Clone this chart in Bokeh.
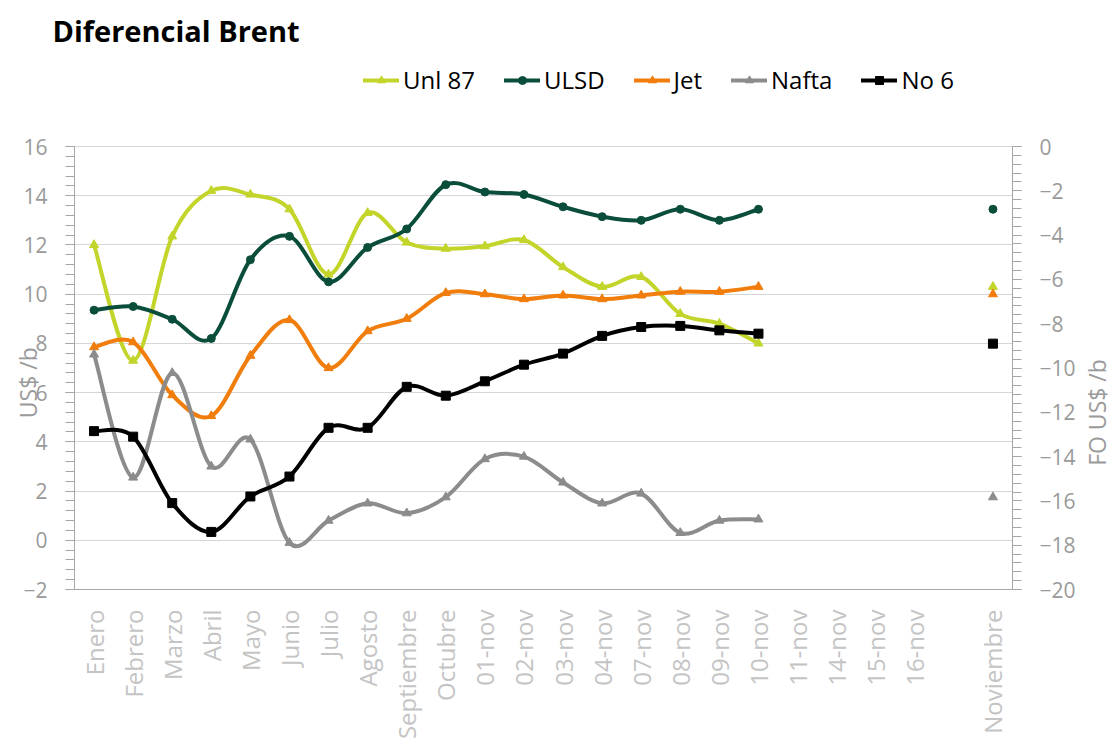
import math
from bokeh.plotting import figure
from bokeh.layouts import row
from bokeh.models import (Range1d, LinearAxis, FixedTicker, Legend, LegendItem)
from bokeh.core.properties import value
from bokeh.embed import file_html
from bokeh.resources import INLINE

# ---------------- data ----------------
categories = ["Enero", "Febrero", "Marzo", "Abril", "Mayo", "Junio", "Julio", "Agosto",
              "Septiembre", "Octubre", "01-nov", "02-nov", "03-nov", "04-nov", "07-nov",
              "08-nov", "09-nov", "10-nov", "11-nov", "14-nov", "15-nov", "16-nov", "",
              "Noviembre"]

unl87 = [12.0, 7.3, 12.35, 14.2, 14.05, 13.45, 10.8, 13.3, 12.1, 11.85, 11.95, 12.2,
         11.1, 10.3, 10.7, 9.2, 8.8, 8.0, None, None, None, None, None, 10.3]
ulsd = [9.35, 9.5, 8.98, 8.2, 11.4, 12.35, 10.5, 11.9, 12.65, 14.45, 14.15, 14.05,
        13.55, 13.15, 13.0, 13.45, 13.0, 13.45, None, None, None, None, None, 13.45]
jet = [7.85, 8.05, 5.9, 5.05, 7.5, 8.95, 7.0, 8.5, 9.0, 10.05, 10.0, 9.8,
       9.95, 9.8, 9.95, 10.1, 10.1, 10.3, None, None, None, None, None, 10.0]
nafta = [7.55, 2.55, 6.8, 3.0, 4.1, -0.1, 0.8, 1.5, 1.1, 1.75, 3.3, 3.4,
         2.35, 1.5, 1.9, 0.3, 0.8, 0.85, None, None, None, None, None, 1.75]
# No 6 is plotted against the secondary (right) axis "FO US$ /b"
no6 = [-12.85, -13.1, -16.1, -17.4, -15.8, -14.9, -12.7, -12.7, -10.85, -11.25, -10.6,
       -9.85, -9.35, -8.55, -8.15, -8.1, -8.3, -8.45, None, None, None, None, None, -8.9]

left_ticks = list(range(-2, 17, 2))
right_ticks = list(range(-20, 1, 2))

series_names = ["Unl 87", "ULSD", "Jet", "Nafta", "No 6"]
series_values = [unl87, ulsd, jet, nafta, no6]
series_colors = ["#c3d42a", "#0b4d3b", "#f07d0c", "#8c8c8c", "#000000"]
series_markers = ["triangle", "circle", "triangle", "triangle", "square"]
series_marker_sizes = [9, 8, 9, 9, 9]
series_axis = ["default", "default", "default", "default", "fo"]


def smooth_segments(vals):
    """Bezier control points (Excel-style smoothed line) for contiguous runs."""
    runs, cur = [], []
    for i, v in enumerate(vals):
        if v is None:
            if cur:
                runs.append(cur)
            cur = []
        else:
            cur.append(i)
    if cur:
        runs.append(cur)
    d = dict(x0=[], y0=[], x1=[], y1=[], cx0=[], cy0=[], cx1=[], cy1=[])
    for run in runs:
        pts = [(float(i), float(vals[i])) for i in run]
        for k in range(len(pts) - 1):
            p0 = pts[k - 1] if k > 0 else pts[k]
            p1 = pts[k]
            p2 = pts[k + 1]
            p3 = pts[k + 2] if k + 2 < len(pts) else pts[k + 1]
            d["x0"].append(p1[0]); d["y0"].append(p1[1])
            d["x1"].append(p2[0]); d["y1"].append(p2[1])
            d["cx0"].append(p1[0] + (p2[0] - p0[0]) / 6.0)
            d["cy0"].append(p1[1] + (p2[1] - p0[1]) / 6.0)
            d["cx1"].append(p2[0] - (p3[0] - p1[0]) / 6.0)
            d["cy1"].append(p2[1] - (p3[1] - p1[1]) / 6.0)
    return d


FONT = "Open Sans"
TICK_COLOR = "#9a9a9a"
AXIS_COLOR = "#a6a6a6"
NBSP = "\u00a0"

# layout in pixels: frame from y=50 to y=589; the value 16 sits at y=146
SIDE_W = 30
W, H = 1111 - SIDE_W, 747
TOP, BOTTOM, LEFT, RIGHT = 50, 158, 74, 1111 - SIDE_W - 1012
frame_h = H - TOP - BOTTOM
px_left = (frame_h - (146 - TOP)) / 18.0      # pixels per unit, left axis (-2..16)
px_right = (frame_h - (146 - TOP)) / 20.0     # pixels per unit, right axis (-20..0)
left_top = 16 + (146 - TOP) / px_left
right_top = 0 + (146 - TOP) / px_right

p = figure(width=W, height=H, output_backend="svg", toolbar_location=None,
           x_range=Range1d(-0.5, len(categories) - 0.5), y_range=Range1d(-2, left_top),
           min_border_left=LEFT, min_border_right=RIGHT, min_border_top=TOP,
           min_border_bottom=BOTTOM)
p.extra_y_ranges = {"fo": Range1d(-20, right_top)}
p.outline_line_color = None
p.background_fill_color = "white"
p.border_fill_color = "white"

# title
p.title.text = "Diferencial Brent"
p.title.align = "left"
p.title.offset = -22
p.title.text_font = FONT
p.title.text_font_size = "29px"
p.title.text_font_style = "bold"
p.title.text_color = "#000000"
p.title.standoff = 2

# x axis (categories as tick labels)
xax = p.xaxis[0]
xax.ticker = FixedTicker(ticks=[i for i, c in enumerate(categories) if c])
xax.major_label_overrides = {i: c for i, c in enumerate(categories) if c}
xax.major_label_orientation = math.pi / 2
xax.major_label_text_font = FONT
xax.major_label_text_font_size = "24px"
xax.major_label_text_color = "#c4c4c4"
xax.major_label_standoff = 14
xax.axis_line_color = AXIS_COLOR
xax.major_tick_line_color = None
xax.minor_tick_line_color = None

# left axis
yax = p.yaxis[0]
yax.ticker = FixedTicker(ticks=left_ticks,
                         minor_ticks=[round(-2 + 0.4 * k, 2) for k in range(46)])
yax.bounds = (-2, 16)
yax.axis_label = "US$ /b" + NBSP * 21
yax.axis_label_standoff = -24
yax.axis_label_text_font = FONT
yax.axis_label_text_font_size = "23px"
yax.axis_label_text_font_style = "normal"
yax.axis_label_text_color = TICK_COLOR

# right axis
rax = LinearAxis(y_range_name="fo", bounds=(-20, 0),
                 ticker=FixedTicker(ticks=right_ticks,
                                    minor_ticks=[round(-20 + 0.4 * k, 2) for k in range(51)]))
p.add_layout(rax, "right")

for ax in (yax, rax):
    ax.axis_line_color = AXIS_COLOR
    ax.major_tick_line_color = AXIS_COLOR
    ax.minor_tick_line_color = AXIS_COLOR
    ax.major_tick_in = 0
    ax.major_tick_out = 9
    ax.minor_tick_in = 0
    ax.minor_tick_out = 9
    ax.major_label_text_font = FONT
    ax.major_label_text_font_size = "21px"
    ax.major_label_text_color = TICK_COLOR
    ax.major_label_standoff = 18

p.xgrid.visible = False
p.ygrid.ticker = FixedTicker(ticks=left_ticks)
p.ygrid.grid_line_color = "#d6d6d6"
p.ygrid.grid_line_width = 1

# series
items = []
for name, vals, col, mk, ms, axn in zip(series_names, series_values, series_colors,
                                        series_markers, series_marker_sizes, series_axis):
    seg = smooth_segments(vals)
    b = p.bezier(x0=seg["x0"], y0=seg["y0"], x1=seg["x1"], y1=seg["y1"],
                 cx0=seg["cx0"], cy0=seg["cy0"], cx1=seg["cx1"], cy1=seg["cy1"],
                 line_color=col, line_width=4, line_cap="round", y_range_name=axn)
    xs = [i for i, v in enumerate(vals) if v is not None]
    ys = [v for v in vals if v is not None]
    s = p.scatter(xs, ys, marker=mk, size=ms, fill_color=col, line_color=col,
                  y_range_name=axn)
    items.append(LegendItem(label=name, renderers=[b, s]))

legend = Legend(items=items, orientation="horizontal", location=(289, 493),
                border_line_color=None, background_fill_alpha=0, padding=0, margin=0,
                spacing=29, glyph_width=36, glyph_height=20, label_standoff=4,
                label_text_font=FONT, label_text_font_size="24px",
                label_text_color="#000000", label_text_baseline="middle")
p.add_layout(legend)

# secondary-axis title, in a narrow strip to the right of the chart
# (its frame is aligned with the chart frame, so it shares the left-axis scale)
side = figure(width=SIDE_W, height=H, output_backend="svg", toolbar_location=None,
              x_axis_type=None, y_axis_type=None,
              x_range=Range1d(0, SIDE_W), y_range=p.y_range,
              min_border_left=0, min_border_right=0, min_border_top=0, min_border_bottom=0)
side.grid.visible = False
side.outline_line_color = None
side.border_fill_color = "white"
label_pos = 16 - (412 - 146) / px_left
side.text(x=[SIDE_W / 2.0], y=[label_pos], text=["FO US$ /b"], angle=math.pi / 2,
          text_font=value(FONT), text_font_size="23px", text_color=TICK_COLOR,
          text_align="center", text_baseline="middle")

layout = row(p, side, spacing=0)
open("out.html", "w").write(file_html(layout, INLINE))
